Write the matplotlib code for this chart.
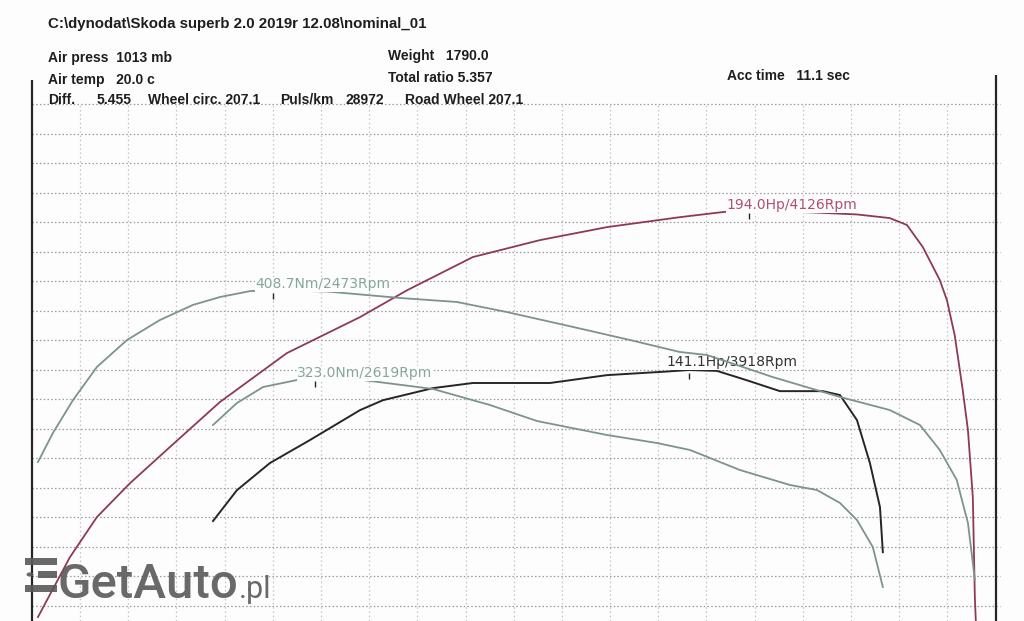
import matplotlib
matplotlib.use("Agg")
import matplotlib.pyplot as plt
from matplotlib import transforms
from matplotlib.patches import Rectangle, Circle

# header of the dyno sheet
header = "C:\\dynodat\\Skoda superb 2.0 2019r 12.08\\nominal_01"
info_left = ["Air press  1013 mb", "Air temp   20.0 c"]
info_mid = ["Weight   1790.0", "Total ratio 5.357"]
acc_time = "Acc time   11.1 sec"
diff_items = ["Diff.", "5.455", "Wheel circ. 207.1", "Puls/km", "28972", "Road Wheel 207.1"]

# tuned run
tuned_hp_rpm = [1654, 1765, 1859, 1974, 2113, 2287, 2520, 2774, 2938, 3167, 3400, 3633,
                3887, 4037, 4126, 4364, 4503, 4617, 4677, 4732, 4791, 4816, 4843, 4871,
                4889, 4906, 4913, 4917]
tuned_hp = [59.3, 79.1, 92.4, 103.6, 115.6, 130.5, 146.7, 158.6, 167.5, 178.5, 184.1, 188.4,
            191.7, 193.4, 194.0, 193.2, 192.6, 191.4, 189.1, 181.8, 170.9, 164.2, 152.6, 134.4,
            121.2, 99.0, 65.9, 56.6]

tuned_nm_rpm = [1654, 1706, 1776, 1859, 1964, 2078, 2193, 2287, 2392, 2473, 2659, 2913,
                3111, 3285, 3515, 3713, 3887, 3981, 4210, 4444, 4617, 4722, 4791, 4850,
                4889, 4906, 4913]
tuned_nm = [241.5, 269.7, 301.8, 334.0, 360.3, 379.7, 394.4, 402.1, 407.9, 408.7, 407.5, 401.2,
            397.3, 387.5, 373.0, 360.3, 348.6, 345.7, 324.2, 304.8, 292.1, 277.5, 253.2, 224.0,
            182.1, 143.1, 126.6]

# stock run
stock_hp_rpm = [2263, 2346, 2461, 2600, 2774, 2854, 3028, 3167, 3320, 3435, 3633, 3842,
                3918, 4016, 4120, 4235, 4384, 4444, 4503, 4548, 4583, 4593]
stock_hp = [91.1, 101.3, 110.3, 117.9, 127.8, 131.1, 135.1, 136.8, 136.8, 136.8, 139.4, 140.6,
            141.1, 140.8, 137.7, 134.1, 134.1, 132.8, 124.5, 110.3, 95.7, 80.8]

stock_nm_rpm = [2263, 2346, 2437, 2555, 2619, 2785, 3028, 3226, 3390, 3633, 3807, 3922,
                4096, 4270, 4364, 4444, 4503, 4558, 4593]
stock_nm = [277.5, 298.9, 314.5, 321.3, 323.0, 321.3, 312.6, 297.0, 281.4, 267.8, 260.0, 253.2,
            233.7, 219.1, 214.2, 201.6, 185.0, 158.7, 119.8]

# peaks (value, rpm)
tuned_hp_peak = (194.0, 4126)
tuned_nm_peak = (408.7, 2473)
stock_hp_peak = (141.1, 3918)
stock_nm_peak = (323.0, 2619)

RED = "#8e3a52"
RED_TXT = "#b0506f"
GREEN = "#7b948c"
GREEN_TXT = "#86a59c"
BLACK = "#262626"

W, H = 1024, 621
fig = plt.figure(figsize=(W / 100, H / 100), dpi=100)
fig.patch.set_facecolor("#fdfdfd")

ax = fig.add_axes([0, 0, 1, 1])
ax.set_xlim(1522, 5084)
ax.set_ylim(58.0, 263.6)
ax.axis("off")
ax2 = ax.twinx()
ax2.set_ylim(86.7, 691.3)
ax2.axis("off")

# grid
x0, xstep = 1633, 167.6
y0, ystep = 229.1, 9.77
vx = [x0 + xstep * k for k in range(1, 20)]
hy = [y0 - ystep * k for k in range(18)]
ax.vlines(vx, 58.0, y0, colors="#c4c4c4", linestyles=(0, (1.2, 2.2)), lw=0.9)
ax.hlines(hy, x0, x0 + 20 * xstep + 17, colors="#9a9a9a", linestyles=(0, (1.2, 1.8)), lw=0.9)
ax.vlines([x0], 58.0, 237.1, colors=BLACK, lw=1.6)
ax.vlines([x0 + 20 * xstep], 58.0, 238.7, colors=BLACK, lw=1.6)

# curves
ax.plot(tuned_hp_rpm, tuned_hp, color=RED, lw=1.3, zorder=3)
ax.plot(stock_hp_rpm, stock_hp, color=BLACK, lw=1.4, zorder=3)
ax2.plot(tuned_nm_rpm, tuned_nm, color=GREEN, lw=1.3, zorder=3)
ax2.plot(stock_nm_rpm, stock_nm, color=GREEN, lw=1.3, zorder=3)


def peak_label(a, peak, unit, color, dx, dy):
    val, rpm = peak
    a.annotate("%.1f%s/%dRpm" % (val, unit, rpm), (rpm, val), xytext=(dx, dy),
               textcoords="offset pixels", ha="left", va="center", fontsize=10,
               color=color, family="DejaVu Sans", zorder=5,
               bbox=dict(boxstyle="square,pad=0.05", fc="#fdfdfd", ec="none"))
    tr = transforms.offset_copy(a.transData, fig=fig, x=0, y=-6, units="dots")
    a.plot([rpm], [val], marker="|", ms=5, mew=1.0, color=BLACK, transform=tr, zorder=6)


peak_label(ax, tuned_hp_peak, "Hp", RED_TXT, -22, 5)
peak_label(ax, stock_hp_peak, "Hp", "#333333", -22, 8)
peak_label(ax2, tuned_nm_peak, "Nm", GREEN_TXT, -18, 6)
peak_label(ax2, stock_nm_peak, "Nm", GREEN_TXT, -18, 5)


def ftext(px, py, s, **kw):
    fig.text(px / W, 1 - py / H, s, ha="left", va="center", color="#1e1e1e",
             family="Liberation Sans", weight="bold", **kw)


ftext(48, 24, header, fontsize=10.8)
ftext(48, 58, info_left[0], fontsize=10)
ftext(48, 80, info_left[1], fontsize=10)
ftext(388, 56, info_mid[0], fontsize=10)
ftext(388, 78, info_mid[1], fontsize=10)
ftext(727, 76, acc_time, fontsize=10)
for px, s in zip([48, 97, 148, 280, 345, 405], diff_items):
    ftext(px, 100, s, fontsize=10)

# watermark
wm = "#595959"
for by, bx in [(558, 25), (585, 25)]:
    fig.add_artist(Rectangle((bx / W, 1 - (by + 7) / H), 32 / W, 7 / H,
                             transform=fig.transFigure, fc=wm, ec="none", alpha=0.9))
fig.add_artist(Rectangle((38 / W, 1 - 578 / H), 19 / W, 7 / H,
                         transform=fig.transFigure, fc=wm, ec="none", alpha=0.9))
fig.add_artist(Circle((30 / W, 1 - 574.5 / H), 3.5 / W, transform=fig.transFigure,
                      fc=wm, ec="none", alpha=0.9))
fig.text(57 / W, 1 - 598 / H, "GetAuto", fontsize=35.5, color=wm, family="Roboto",
         weight="medium", ha="left", va="baseline", alpha=0.9)
fig.text(239 / W, 1 - 598 / H, ".pl", fontsize=22, color=wm, family="Roboto",
         ha="left", va="baseline", alpha=0.9)

fig.savefig("out.png", dpi=100, facecolor=fig.get_facecolor())
